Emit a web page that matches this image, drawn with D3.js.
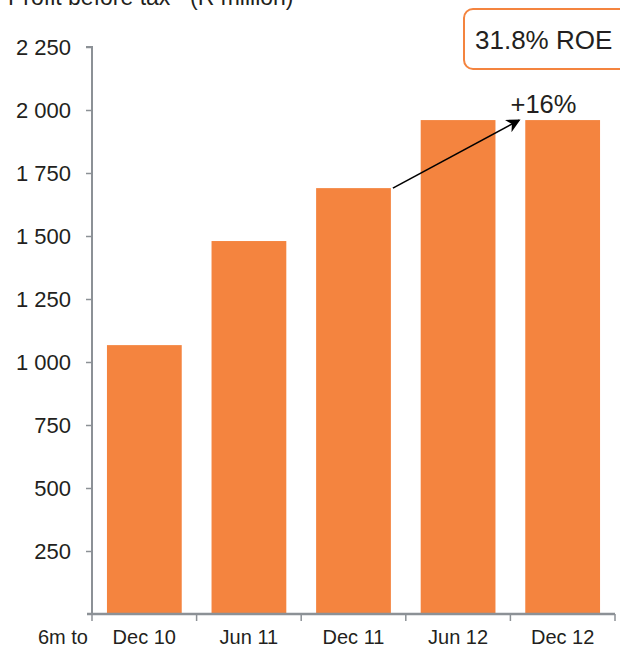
<!DOCTYPE html>
<html>
<head>
<meta charset="utf-8">
<script src="https://cdn.jsdelivr.net/npm/d3@7"></script>
<style>
  html, body { margin: 0; padding: 0; background: #fff; }
  svg { display: block; font-family: "Liberation Sans", Arial, sans-serif; }
</style>
</head>
<body>
<svg id="chart" width="620" height="646"></svg>
<script>
// Half-year profit before tax, R million
const periods = ["Dec 10", "Jun 11", "Dec 11", "Jun 12", "Dec 12"];
const profit = [1067, 1480, 1690, 1960, 1960];
const yTicks = [250, 500, 750, 1000, 1250, 1500, 1750, 2000, 2250];
const growthLabel = "+16%";
const roeLabel = "31.8% ROE";

const svg = d3.select("#chart");
const plotLeft = 92, plotRight = 615, plotTop = 47, plotBottom = 614;
const textColor = "#231f20", axisColor = "#8c9196", barColor = "#f4843f";

const x = d3.scaleBand().domain(periods).range([plotLeft, plotRight]).paddingInner(0.285).paddingOuter(0.143);
const xCat = d3.scaleBand().domain(periods).range([plotLeft, plotRight]);
const y = d3.scaleLinear().domain([0, 2250]).range([plotBottom, plotTop]);

// Title (partly above the top edge)
const title = svg.append("text").attr("x", 8).attr("y", 5)
  .attr("font-size", 23).attr("fill", textColor);
title.append("tspan").text("Profit before tax");
title.append("tspan").attr("font-size", 14).attr("dy", -8).text("*");
title.append("tspan").attr("x", 190).attr("dy", 8).text("(R million)");

// Bars
svg.selectAll("rect.bar").data(periods).join("rect")
  .attr("class", "bar")
  .attr("x", d => x(d)).attr("width", x.bandwidth())
  .attr("y", (d, i) => y(profit[i]))
  .attr("height", (d, i) => y(0) - y(profit[i]))
  .attr("fill", barColor);

// Y axis
const yAxis = svg.append("g").attr("transform", `translate(${plotLeft},0)`)
  .call(d3.axisLeft(y).tickValues(yTicks).tickSize(6).tickPadding(15)
    .tickFormat(d => d3.format(",")(d).replace(/,/g, " ")));
yAxis.select(".domain").attr("stroke", axisColor).attr("stroke-width", 2)
  .attr("d", `M-6,${y(2250)}H0V${plotBottom}`);
yAxis.selectAll(".tick line").attr("stroke", axisColor).attr("stroke-width", 1.5);
yAxis.selectAll(".tick text").attr("fill", textColor).attr("font-size", 22)
  .attr("font-family", "Liberation Sans, Arial, sans-serif");

// X axis: category boundaries as downward ticks
const xg = svg.append("g");
xg.append("line").attr("x1", plotLeft - 5).attr("x2", plotRight).attr("y1", plotBottom).attr("y2", plotBottom)
  .attr("stroke", axisColor).attr("stroke-width", 2.5);
const bounds = periods.map(p => xCat(p)).concat([plotRight]);
xg.selectAll("line.tick").data(bounds).join("line").attr("class", "tick")
  .attr("x1", d => d).attr("x2", d => d).attr("y1", plotBottom).attr("y2", plotBottom + 7)
  .attr("stroke", axisColor).attr("stroke-width", 1.5);
xg.selectAll("text.cat").data(periods).join("text").attr("class", "cat")
  .attr("x", d => xCat(d) + xCat.bandwidth() / 2).attr("y", 644)
  .attr("text-anchor", "middle").attr("font-size", 20).attr("fill", textColor)
  .text(d => d);
svg.append("text").attr("x", 88).attr("y", 644).attr("text-anchor", "end")
  .attr("font-size", 20).attr("fill", textColor).text("6m to");

// Growth arrow from Dec 11 to Dec 12
svg.append("defs").append("marker").attr("id", "arrowhead")
  .attr("viewBox", "0 0 10 10").attr("refX", 9).attr("refY", 5)
  .attr("markerWidth", 14).attr("markerHeight", 14).attr("orient", "auto")
  .attr("markerUnits", "userSpaceOnUse")
  .append("path").attr("d", "M0,0L10,5L0,10L3,5Z").attr("fill", "#000");
const ax0 = x("Dec 11") + x.bandwidth() + 2, ay0 = y(profit[2]);
const ax1 = x("Dec 12") - 6, ay1 = y(profit[4]);
svg.append("line").attr("x1", ax0).attr("y1", ay0).attr("x2", ax1).attr("y2", ay1)
  .attr("stroke", "#000").attr("stroke-width", 1.6).attr("marker-end", "url(#arrowhead)");
svg.append("text").attr("x", 543.5).attr("y", 113).attr("text-anchor", "middle")
  .attr("font-size", 25.5).attr("fill", textColor).text(growthLabel);

// ROE call-out box
svg.append("rect").attr("x", 464).attr("y", 9).attr("width", 180).attr("height", 60)
  .attr("rx", 9).attr("fill", "#fff").attr("stroke", barColor).attr("stroke-width", 2);
svg.append("text").attr("x", 475).attr("y", 49).attr("font-size", 26)
  .attr("fill", textColor).text(roeLabel);
</script>
</body>
</html>
